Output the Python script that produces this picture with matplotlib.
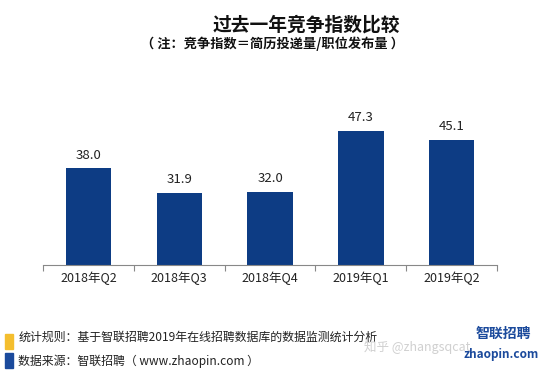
import matplotlib
matplotlib.use("Agg")
import matplotlib.pyplot as plt
import numpy as np
from matplotlib.patches import Rectangle

plt.rcParams['font.family'] = ['Noto Sans CJK SC', 'DejaVu Sans']

quarters = ["2018年Q2", "2018年Q3", "2018年Q4", "2019年Q1", "2019年Q2"]
index_values = [38.0, 31.9, 32.0, 47.3, 45.1]

bar_color = "#0D3C84"

fig = plt.figure(figsize=(5.38, 3.71), dpi=100)
ax = fig.add_axes([0.08, 0.2857, 0.844, 0.50])

x = np.arange(len(quarters))
ax.bar(x, index_values, width=0.5, color=bar_color, zorder=2)
ax.set_xlim(-0.5, len(quarters) - 0.5)
ax.set_ylim(13.8, 60.3)

for xi, v in zip(x, index_values):
    ax.annotate(f"{v:.1f}", (xi, v), xytext=(0, 5), textcoords="offset points",
                ha="center", va="bottom", fontsize=9.5, color="#222222")

# axis styling: only bottom line with ticks at category boundaries
for s in ["top", "right", "left"]:
    ax.spines[s].set_visible(False)
ax.spines["bottom"].set_color("#888888")
ax.spines["bottom"].set_linewidth(0.8)
ax.set_yticks([])
ax.set_xticks(np.arange(-0.5, len(quarters), 1.0))
ax.set_xticklabels([])
ax.tick_params(axis="x", which="major", direction="out", length=4, color="#888888")
ax.set_xticks(x, minor=True)
ax.set_xticklabels(quarters, minor=True, fontsize=9, color="#222222")
ax.tick_params(axis="x", which="minor", length=0, pad=5)

# titles
fig.text(0.57, 0.932, "过去一年竞争指数比较", ha="center", va="center",
         fontsize=13.5, fontweight="bold", color="#111111")
fig.text(0.506, 0.881, "（ 注：竞争指数＝简历投递量/职位发布量 ）", ha="center", va="center",
         fontsize=9.5, fontweight="bold", color="#111111")

# footer notes
fig.patches.append(Rectangle((0.009, 0.060), 0.016, 0.040, transform=fig.transFigure,
                             color="#F4BE2E", figure=fig))
fig.patches.append(Rectangle((0.009, 0.008), 0.016, 0.040, transform=fig.transFigure,
                             color="#1B4A9C", figure=fig))
fig.text(0.034, 0.091, "统计规则：基于智联招聘2019年在线招聘数据库的数据监测统计分析",
         ha="left", va="center", fontsize=8.6, color="#222222")
fig.text(0.034, 0.027, "数据来源：智联招聘（ www.zhaopin.com ）",
         ha="left", va="center", fontsize=8.6, color="#222222")

# watermark + logo
fig.text(0.775, 0.065, "知乎 @zhangsqcat", ha="center", va="center", fontsize=9,
         color="#d0d0d0")
fig.text(0.935, 0.100, "智联招聘", ha="center", va="center", fontsize=10,
         fontweight="bold", color="#1B4A9C", style="italic")
fig.text(0.932, 0.045, "zhaopin.com", ha="center", va="center", fontsize=8.5,
         fontweight="bold", color="#1B4A9C", style="italic")

fig.savefig("out.png", dpi=100)
